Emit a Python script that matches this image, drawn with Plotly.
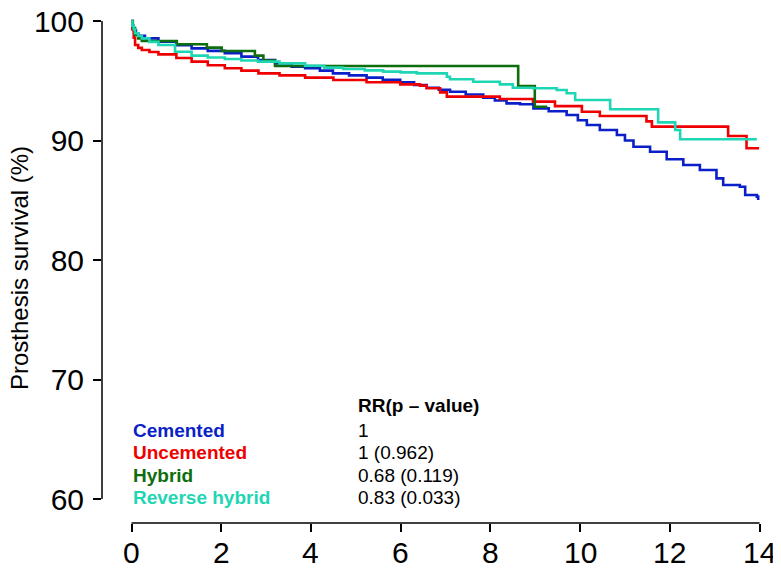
import plotly.graph_objects as go

# ---- data ----
cem_t = [0, 0.02, 0.05, 0.1, 0.15, 0.3, 0.6, 1.0, 1.34, 1.7, 2.08, 2.45, 2.82, 3.2, 3.57, 3.87,
         4.2, 4.49, 4.85, 5.24, 5.6, 5.99, 6.3, 6.58, 6.85, 7.1, 7.45, 7.84, 8.1, 8.36, 8.66,
         8.96, 9.3, 9.7, 9.95, 10.15, 10.44, 10.82, 11.0, 11.19, 11.56, 11.93, 12.3, 12.67,
         13.04, 13.19, 13.56, 13.68, 13.94, 13.97]
cem_s = [100, 99.6, 99.2, 98.95, 98.77, 98.55, 98.27, 97.98, 97.71, 97.5, 97.3, 97.02, 96.74,
         96.45, 96.18, 96.04, 95.85, 95.62, 95.45, 95.26, 95.08, 94.87, 94.65, 94.42, 94.25,
         94.08, 93.85, 93.58, 93.35, 93.11, 93.03, 92.69, 92.45, 92.13, 91.7, 91.3, 90.88,
         90.46, 90.0, 89.48, 89.06, 88.43, 87.95, 87.53, 86.83, 86.28, 86.13, 85.44, 85.3, 85.02]

unc_t = [0, 0.02, 0.05, 0.08, 0.15, 0.23, 0.4, 0.6, 1.0, 1.34, 1.7, 2.08, 2.45, 2.83, 3.3,
         3.87, 4.5, 5.24, 5.99, 6.43, 6.58, 6.88, 7.03, 8.21, 8.95, 9.44, 10.04, 10.44, 11.48,
         11.6, 13.3, 13.71, 13.99]
unc_s = [100, 99.3, 98.6, 97.99, 97.75, 97.57, 97.4, 97.21, 96.9, 96.6, 96.3, 96.04, 95.85,
         95.62, 95.45, 95.26, 95.06, 94.87, 94.7, 94.59, 94.37, 94.03, 93.67, 93.47, 93.25,
         92.88, 92.41, 92.05, 91.6, 91.16, 90.38, 89.35, 89.35]

hyb_t = [0, 0.03, 0.08, 0.15, 0.23, 1.01, 1.68, 2.01, 2.75, 2.94, 3.2, 8.62, 8.99, 9.27]
hyb_s = [100, 99.4, 98.83, 98.55, 98.33, 98.05, 97.77, 97.49, 97.1, 96.68, 96.23, 94.56,
         92.83, 92.83]

rev_t = [0, 0.02, 0.05, 0.08, 0.15, 0.23, 0.4, 0.6, 0.97, 1.34, 1.7, 2.08, 2.45, 2.82, 3.3,
         3.87, 4.3, 4.72, 5.2, 5.61, 6.0, 6.36, 7.03, 7.1, 7.62, 8.21, 8.5, 8.95, 9.48, 9.7,
         9.89, 10.67, 11.74, 12.12, 12.23, 13.94]
rev_s = [100, 99.6, 99.3, 98.97, 98.75, 98.55, 98.25, 97.99, 97.43, 97.1, 96.95, 96.82, 96.7,
         96.6, 96.45, 96.26, 96.1, 95.98, 95.87, 95.76, 95.7, 95.62, 95.34, 95.12, 94.92,
         94.7, 94.42, 94.37, 94.23, 93.95, 93.39, 92.61, 91.52, 90.88, 90.1, 90.1]

groups = ["Cemented", "Uncemented", "Hybrid", "Reverse hybrid"]
rr_labels = ["1", "1 (0.962)", "0.68 (0.119)", "0.83 (0.033)"]
rr_header = "RR(p \u2013 value)"
x_ticks = [0, 2, 4, 6, 8, 10, 12, 14]
y_ticks = [60, 70, 80, 90, 100]
y_title = "Prosthesis survival (%)"

colors = ["#0b1fc8", "#ee0000", "#0e6e0e", "#1fd6b4"]
series = [(cem_t, cem_s), (unc_t, unc_s), (hyb_t, hyb_s), (rev_t, rev_s)]

# page body has an 8px margin: figure pixel = screen pixel - 8
OFF = 8
W, H = 781 - OFF, 568 - OFF
# plot area in screen pixels: left 102, right 775, top 8, bottom 523
SL, SR, ST, SB = 102, 775, 8, 523
L, R, T, B = SL - OFF, W - (SR - OFF), ST - OFF, H - (SB - OFF)
FONT = "Liberation Sans, Arial, sans-serif"

def px(xs):
    return (xs - SL) / (SR - SL)

def py(ys):
    return (SB - ys) / (SB - ST)

fig = go.Figure()
for (t, s), c, name in zip(series, colors, groups):
    fig.add_trace(go.Scatter(x=t, y=s, mode="lines", line=dict(color=c, width=2.6, shape="hv"),
                             name=name, showlegend=False, hoverinfo="skip"))

# screen mapping: x 0 -> 131.5px, 44.86 px/unit ; y 100 -> 21px, 11.95 px/unit
xmin = (SL - 131.5) / 44.86
xmax = (SR - 131.5) / 44.86
ymin = 60 - (SB - 499) / 11.95
ymax = 100 + (21 - ST) / 11.95

fig.update_layout(
    width=W, height=H,
    margin=dict(l=L, r=R, t=T, b=B, pad=0, autoexpand=False),
    paper_bgcolor="white", plot_bgcolor="white",
    font=dict(family=FONT, color="black"),
    xaxis=dict(range=[xmin, xmax], tickvals=x_ticks, ticks="outside", ticklen=8,
               tickwidth=1.5, tickcolor="black", showgrid=False, zeroline=False,
               showline=False, automargin=False, showticklabels=False),
    yaxis=dict(range=[ymin, ymax], tickvals=y_ticks, ticks="outside", ticklen=8,
               tickwidth=1.5, tickcolor="black", showgrid=False, zeroline=False,
               showline=False, automargin=False, ticklabeloverflow="allow",
               tickfont=dict(size=30, family=FONT), ticklabelstandoff=3),
)

# R-style axis lines spanning first to last tick
fig.add_shape(type="line", xref="x", yref="paper", x0=x_ticks[0], x1=x_ticks[-1], y0=0, y1=0,
              line=dict(color="black", width=1.5))
fig.add_shape(type="line", xref="paper", yref="y", x0=0, x1=0, y0=y_ticks[0], y1=y_ticks[-1],
              line=dict(color="black", width=1.5))

# x tick labels (placed as text just under the ticks)
for v in x_ticks:
    fig.add_annotation(text=str(v), xref="x", yref="paper", x=v, y=0, yshift=-29,
                       xanchor="center", yanchor="middle", showarrow=False,
                       font=dict(size=30, family=FONT, color="black"))

# y-axis title
fig.add_annotation(text=y_title, xref="paper", yref="paper", x=px(19), y=py(268),
                   xanchor="center", yanchor="middle", textangle=-90, showarrow=False,
                   font=dict(size=24, family=FONT, color="black"))

# legend block
fig.add_annotation(text="<b>" + rr_header + "</b>", xref="paper", yref="paper",
                   x=px(356), y=py(405), xanchor="left", yanchor="middle", showarrow=False,
                   font=dict(size=19, family=FONT, color="black"))
rows_y = [430, 452.5, 475, 497.5]
for name, rr, c, yy in zip(groups, rr_labels, colors, rows_y):
    fig.add_annotation(text="<b>" + name + "</b>", xref="paper", yref="paper",
                       x=px(131), y=py(yy), xanchor="left", yanchor="middle", showarrow=False,
                       font=dict(size=19, family=FONT, color=c))
    fig.add_annotation(text=rr, xref="paper", yref="paper",
                       x=px(356), y=py(yy), xanchor="left", yanchor="middle", showarrow=False,
                       font=dict(size=19, family=FONT, color="black"))

fig.write_html("out.html")
